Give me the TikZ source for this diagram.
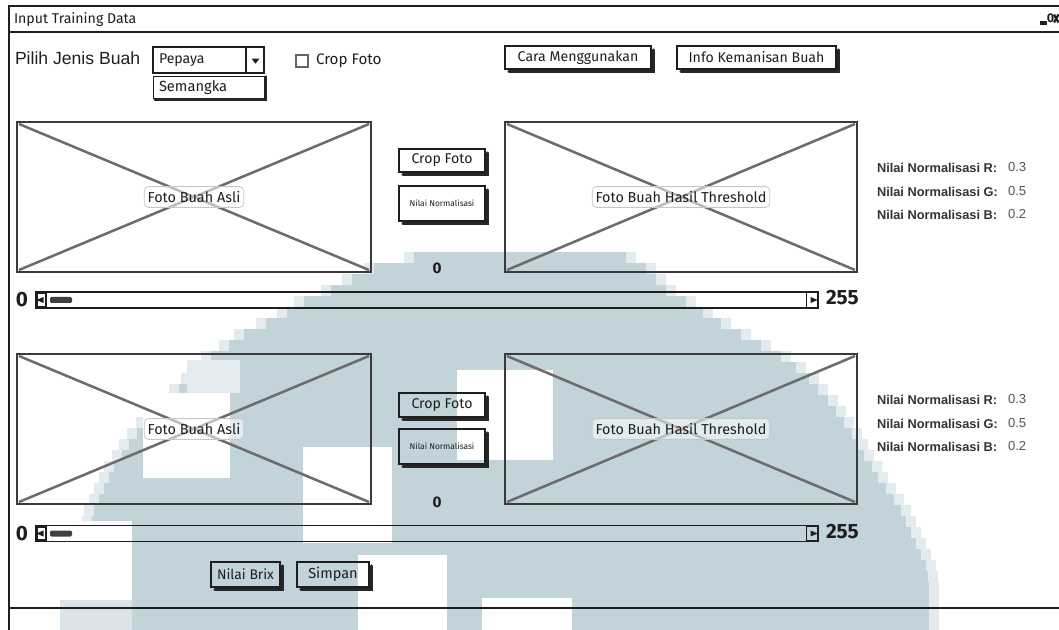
\documentclass[tikz,border=0pt]{standalone}
\usepackage{fontspec}
\usetikzlibrary{shapes.geometric}
\setmainfont{Liberation Sans}
\newfontfamily\bal{Fira Sans}
\definecolor{ink}{HTML}{1E1E1E}
\definecolor{boxline}{HTML}{3A3A3A}
\definecolor{crossline}{HTML}{6C6C6C}
\definecolor{wm}{RGB}{194,211,218}
\definecolor{shadecol}{HTML}{262626}
\definecolor{lbl}{HTML}{333333}
\definecolor{val}{HTML}{555555}

\newcommand\btnshadow[1]{%
  \draw[shad] ([xshift=3pt,yshift=-1.6pt]#1.south west) -- ([xshift=1.6pt,yshift=-1.6pt]#1.south east)
    -- ([xshift=1.6pt,yshift=-3pt]#1.north east);}

\begin{document}
\begin{tikzpicture}[x=0.75pt,y=-0.75pt,
  every node/.style={inner sep=0pt,outer sep=0pt,text=ink},
  winline/.style={draw=ink,line width=1.5pt},
  btn/.style={draw=ink,line width=1.1pt,font=\bal\fontsize{10.6}{12}\selectfont},
  shad/.style={draw=shadecol,line width=2.4pt,line cap=round},
  imgbox/.style={draw=boxline,line width=1.5pt},
  cross/.style={draw=crossline,line width=1.9pt},
  imglabel/.style={draw=black!22,line width=0.6pt,rounded corners=3pt,fill=white,fill opacity=0.55,
    text opacity=1,inner xsep=2.5pt,inner ysep=3.5pt,font=\bal\fontsize{10.8}{12}\selectfont},
  track/.style={draw=ink,line width=1.1pt},
  nlabel/.style={anchor=west,font=\bfseries\fontsize{9.6}{11}\selectfont,text=lbl},
  nvalue/.style={anchor=west,font=\fontsize{9.8}{11}\selectfont,text=val},
  bignum/.style={font=\bal\bfseries\fontsize{15.5}{17}\selectfont},
  midnum/.style={font=\bal\bfseries\fontsize{11.5}{13}\selectfont},
  tinytext/.style={font=\bal\fontsize{6.3}{7}\selectfont}]
\useasboundingbox (0,0) rectangle (1059,630);

% ---- pixelated watermark arch in the background ----
\begin{scope}
\clip (0,0) rectangle (1059,630);
\foreach \ya/\xl/\xr in {252/410/630, 263/370/650, 274/348/660, 285/327/670, 296/300/690,
    307/283/707, 318/262/725, 329/240/745, 340/225/765, 351/207/785, 362/197/800,
    373/187/813, 384/175/822, 395/160/832, 406/150/840, 417/142/848, 428/133/856,
    439/125/862, 450/118/868, 461/110/876, 472/105/882, 483/100/890, 494/95/898,
    505/90/905, 516/88/910, 527/85/915, 538/80/920, 549/75/925, 560/70/930,
    571/65/932, 582/62/933, 593/58/933, 604/55/933, 615/55/933, 626/55/933}{
  \fill[wm!45] (\xl-6,\ya) rectangle (\xr+6,\ya+11);
  \fill[wm] (\xl+4,\ya) rectangle (\xr-4,\ya+11);
}
\fill[wm!45] (187,360) rectangle (240,393);
\fill[white] (143,393) rectangle (230,478);
\fill[white] (303,447) rectangle (392,543);
\fill[white] (457,370) rectangle (553,460);
\fill[white] (358,555) rectangle (447,630);
\fill[white] (30,521) rectangle (132,600);
\fill[white] (30,600) rectangle (60,630);
\fill[wm!60] (60,600) rectangle (132,630);
\fill[white] (482,598) rectangle (572,630);
\end{scope}

% ---- window frame ----
\coordinate (wtl) at (9,6);
\coordinate (wtr) at (1059,6);
\coordinate (wbl) at (9,630);
\coordinate (tbl) at (9,32);
\coordinate (tbr) at (1059,32);
\coordinate (sbl) at (9,608);
\coordinate (sbr) at (1059,608);
\draw[winline] (wbl) -- (wtl) -- (wtr);
\draw[winline] (tbl) -- (tbr);
\draw[winline] (sbl) -- (sbr);
\node[anchor=west,font=\bal\fontsize{10.6}{12}\selectfont] (title) at (14,19) {Input Training Data};
% window controls
\coordinate (mina) at (1040,23);
\coordinate (minb) at (1047,23);
\draw[ink,line width=2.4pt] (mina) -- (minb);
\node[font=\bal\bfseries\fontsize{9.5}{10}\selectfont] (maxbtn) at (1050.5,18.5) {0};
\coordinate (xa) at (1054,14.5);
\coordinate (xb) at (1058.5,22.5);
\coordinate (xc) at (1054,22.5);
\coordinate (xd) at (1058.5,14.5);
\draw[ink,line width=1.6pt] (xa) -- (xb) (xc) -- (xd);

% ---- top row of controls ----
\node[anchor=west,font=\fontsize{13.2}{15}\selectfont] (pilih) at (15,58) {Pilih Jenis Buah};
\node[draw=ink,line width=1.1pt,minimum width=111*0.75pt,minimum height=26*0.75pt] (combo) at (208.5,60) {};
\node[anchor=west,font=\bal\fontsize{10.6}{12}\selectfont] (pepaya) at (159,60) {Pepaya};
\coordinate (cdiv1) at (246,47);
\coordinate (cdiv2) at (246,73);
\draw[ink,line width=1.1pt] (cdiv1) -- (cdiv2);
\node[fill=ink,isosceles triangle,isosceles triangle apex angle=75,shape border rotate=-90,
      minimum width=6pt,minimum height=3.5pt,inner sep=0pt] (carrow) at (255.5,60.5) {};
\node[draw=ink,line width=1.1pt,minimum width=111*0.75pt,minimum height=22*0.75pt] (dlist) at (209,87.5) {};
\draw[shad,line width=1.8pt] ([xshift=1pt,yshift=-0.9pt]dlist.south west) -- ([xshift=0.9pt,yshift=-0.9pt]dlist.south east) -- ([xshift=0.9pt]dlist.north east);
\node[anchor=west,font=\bal\fontsize{11}{12}\selectfont] (semangka) at (159,88) {Semangka};
\node[draw=black!60,line width=0.8pt,minimum width=12*0.75pt,minimum height=12*0.75pt] (chk) at (302,61) {};
\node[anchor=west,font=\bal\fontsize{11.4}{13}\selectfont] (chklbl) at (316,61) {Crop Foto};

\node[btn,minimum width=146*0.75pt,minimum height=23*0.75pt] (cara) at (578,57.5) {Cara Menggunakan};
\btnshadow{cara}
\node[btn,minimum width=159*0.75pt,minimum height=23*0.75pt] (info) at (756.5,57.5) {Info Kemanisan Buah};
\btnshadow{info}

% ---- first photo row ----
\node[imgbox,minimum width=354*0.75pt,minimum height=150*0.75pt] (asli1) at (194,197) {};
\draw[cross] ([xshift=1.5pt,yshift=-1.5pt]asli1.north west) -- ([xshift=-1.5pt,yshift=1.5pt]asli1.south east);
\draw[cross] ([xshift=1.5pt,yshift=1.5pt]asli1.south west) -- ([xshift=-1.5pt,yshift=-1.5pt]asli1.north east);
\node[imglabel] (asli1lbl) at (asli1.center) {Foto Buah Asli};

\node[imgbox,minimum width=352*0.75pt,minimum height=150*0.75pt] (thr1) at (681,197) {};
\draw[cross] ([xshift=1.5pt,yshift=-1.5pt]thr1.north west) -- ([xshift=-1.5pt,yshift=1.5pt]thr1.south east);
\draw[cross] ([xshift=1.5pt,yshift=1.5pt]thr1.south west) -- ([xshift=-1.5pt,yshift=-1.5pt]thr1.north east);
\node[imglabel] (thr1lbl) at (thr1.center) {Foto Buah Hasil Threshold};

\node[btn,minimum width=86*0.75pt,minimum height=23*0.75pt] (crop1) at (442,160.5) {Crop Foto};
\btnshadow{crop1}
\node[btn,minimum width=86*0.75pt,minimum height=35*0.75pt,tinytext] (norm1) at (442,203.5) {Nilai Normalisasi};
\btnshadow{norm1}
\node[midnum] (zero1) at (437,268) {0};

\node[nlabel] (r1) at (877,168) {Nilai Normalisasi R:};
\node[nlabel] (g1) at (877,192) {Nilai Normalisasi G:};
\node[nlabel] (b1) at (877,215) {Nilai Normalisasi B:};
\node[nvalue] (r1v) at (1008,167) {0.3};
\node[nvalue] (g1v) at (1008,191) {0.5};
\node[nvalue] (b1v) at (1008,214) {0.2};

% slider 1
\node[track,minimum width=782*0.75pt,minimum height=16*0.75pt] (sl1) at (427,300) {};
\node[draw=ink,line width=0.8pt,minimum width=9*0.75pt,minimum height=13*0.75pt] (sl1l) at (41.5,300) {};
\node[fill=ink,isosceles triangle,shape border rotate=180,minimum width=4.5pt,minimum height=3pt] (sl1la) at (41.5,300) {};
\node[fill=black!75,rounded corners=1pt,minimum width=22*0.75pt,minimum height=6*0.75pt] (sl1t) at (61,300) {};
\node[draw=ink,line width=0.8pt,minimum width=11*0.75pt,minimum height=15*0.75pt] (sl1r) at (812,300) {};
\node[fill=ink,isosceles triangle,minimum width=4.5pt,minimum height=3pt] (sl1ra) at (812.5,300) {};
\node[bignum,anchor=west] (min1) at (16,300) {0};
\node[bignum,anchor=west] (max1) at (826,298) {255};

% ---- second photo row ----
\node[imgbox,minimum width=354*0.75pt,minimum height=150*0.75pt] (asli2) at (194,429) {};
\draw[cross] ([xshift=1.5pt,yshift=-1.5pt]asli2.north west) -- ([xshift=-1.5pt,yshift=1.5pt]asli2.south east);
\draw[cross] ([xshift=1.5pt,yshift=1.5pt]asli2.south west) -- ([xshift=-1.5pt,yshift=-1.5pt]asli2.north east);
\node[imglabel] (asli2lbl) at (asli2.center) {Foto Buah Asli};

\node[imgbox,minimum width=352*0.75pt,minimum height=150*0.75pt] (thr2) at (681,429) {};
\draw[cross] ([xshift=1.5pt,yshift=-1.5pt]thr2.north west) -- ([xshift=-1.5pt,yshift=1.5pt]thr2.south east);
\draw[cross] ([xshift=1.5pt,yshift=1.5pt]thr2.south west) -- ([xshift=-1.5pt,yshift=-1.5pt]thr2.north east);
\node[imglabel] (thr2lbl) at (thr2.center) {Foto Buah Hasil Threshold};

\node[btn,minimum width=86*0.75pt,minimum height=24*0.75pt] (crop2) at (442,405) {Crop Foto};
\btnshadow{crop2}
\node[btn,minimum width=86*0.75pt,minimum height=35*0.75pt,tinytext] (norm2) at (442,446.5) {Nilai Normalisasi};
\btnshadow{norm2}
\node[midnum] (zero2) at (437,502) {0};

\node[nlabel] (r2) at (877,400) {Nilai Normalisasi R:};
\node[nlabel] (g2) at (877,424) {Nilai Normalisasi G:};
\node[nlabel] (b2) at (877,447) {Nilai Normalisasi B:};
\node[nvalue] (r2v) at (1008,399) {0.3};
\node[nvalue] (g2v) at (1008,423) {0.5};
\node[nvalue] (b2v) at (1008,446) {0.2};

% slider 2
\node[track,minimum width=782*0.75pt,minimum height=16*0.75pt] (sl2) at (427,533.5) {};
\node[draw=ink,line width=0.8pt,minimum width=9*0.75pt,minimum height=13*0.75pt] (sl2l) at (41.5,533.5) {};
\node[fill=ink,isosceles triangle,shape border rotate=180,minimum width=4.5pt,minimum height=3pt] (sl2la) at (41.5,533.5) {};
\node[fill=black!75,rounded corners=1pt,minimum width=22*0.75pt,minimum height=6*0.75pt] (sl2t) at (61,533.5) {};
\node[draw=ink,line width=0.8pt,minimum width=11*0.75pt,minimum height=15*0.75pt] (sl2r) at (812,533.5) {};
\node[fill=ink,isosceles triangle,minimum width=4.5pt,minimum height=3pt] (sl2ra) at (812.5,533.5) {};
\node[bignum,anchor=west] (min2) at (16,533.5) {0};
\node[bignum,anchor=west] (max2) at (826,532) {255};

% ---- bottom buttons ----
\node[btn,line width=1.6pt,minimum width=69*0.75pt,minimum height=25*0.75pt,font=\bal\fontsize{10.4}{12}\selectfont] (brix) at (245.5,574.5) {Nilai Brix};
\btnshadow{brix}
\node[btn,minimum width=72*0.75pt,minimum height=25*0.75pt,font=\bal\fontsize{10.9}{12}\selectfont] (simpan) at (333,574.5) {Simpan};
\btnshadow{simpan}
\end{tikzpicture}
\end{document}
